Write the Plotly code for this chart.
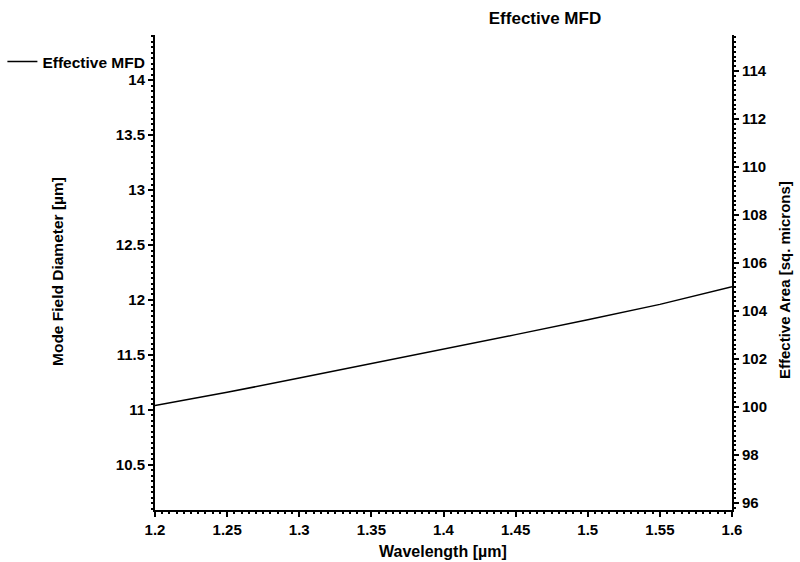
import plotly.graph_objects as go

wavelength = [1.20, 1.25, 1.30, 1.35, 1.40, 1.45, 1.50, 1.55, 1.60]
mfd = [11.04, 11.16, 11.29, 11.42, 11.55, 11.685, 11.82, 11.96, 12.12]

x_ticks = [1.2, 1.25, 1.3, 1.35, 1.4, 1.45, 1.5, 1.55, 1.6]
x_ticklabels = ["1.2", "1.25", "1.3", "1.35", "1.4", "1.45", "1.5", "1.55", "1.6"]
left_ticks = [10.5, 11, 11.5, 12, 12.5, 13, 13.5, 14]
right_ticks = [96, 98, 100, 102, 104, 106, 108, 110, 112, 114]

FONT = "Liberation Sans, Arial, sans-serif"

# plot area in pixels
L, R, T, B = 155, 732, 35, 510
W, H = R - L, B - T


def px(x):
    return (x - L) / W


def py(y):
    return (B - y) / H


fig = go.Figure()
fig.add_trace(go.Scatter(x=wavelength, y=mfd, mode="lines", name="<b>Effective MFD</b>",
                         line=dict(color="black", width=1.5)))
# empty trace so that the right-hand axis is drawn
fig.add_trace(go.Scatter(x=[wavelength[0]], y=[None], yaxis="y2", mode="lines",
                         showlegend=False, hoverinfo="skip"))

axis_common = dict(showline=True, linecolor="black", linewidth=2, ticks="outside",
                   ticklen=5, tickwidth=1.5, tickcolor="black", showgrid=False, zeroline=False,
                   tickfont=dict(family=FONT, size=15, color="black"),
                   mirror=False, automargin=False)

title_font = dict(family=FONT, color="black")

fig.update_layout(
    width=800, height=562,
    margin=dict(l=L, r=800 - R, t=T, b=562 - B),
    paper_bgcolor="white", plot_bgcolor="white",
    font=dict(family=FONT, color="black"),
    title=dict(text="<b>Effective MFD</b>", x=545 / 800, xanchor="center",
               y=1 - 18 / 562, yanchor="middle", font=dict(size=17, family=FONT, color="black")),
    showlegend=True,
    legend=dict(xref="container", yref="container", x=0.003, y=1 - 62 / 562,
                xanchor="left", yanchor="middle", bgcolor="rgba(0,0,0,0)",
                font=dict(size=15.5, family=FONT, color="black")),
    xaxis=dict(range=[1.2, 1.6], tickvals=x_ticks, ticktext=["<b>%s</b>" % t for t in x_ticklabels],
               minor=dict(dtick=0.005, ticklen=2, tickcolor="black", ticks="outside"),
               **axis_common),
    yaxis=dict(range=[10.09, 14.41], tickvals=left_ticks,
               ticktext=["<b>%g</b>" % t for t in left_ticks],
               minor=dict(dtick=0.05, ticklen=2, tickcolor="black", ticks="outside"),
               **axis_common),
    yaxis2=dict(range=[95.71, 115.5], overlaying="y", side="right", anchor="x",
                tickvals=right_ticks, ticktext=["<b>%g</b>" % t for t in right_ticks],
                minor=dict(dtick=0.2, ticklen=2, tickcolor="black", ticks="outside"),
                **axis_common),
    annotations=[
        dict(text="<b>Wavelength [µm]</b>", xref="paper", yref="paper", x=px(443), y=py(551),
             xanchor="center", yanchor="middle", showarrow=False, font=dict(size=16, **title_font)),
        dict(text="<b>Mode Field Diameter [µm]</b>", xref="paper", yref="paper", x=px(57), y=py(272),
             xanchor="center", yanchor="middle", textangle=-90, showarrow=False,
             font=dict(size=15.5, **title_font)),
        dict(text="<b>Effective Area [sq. microns]</b>", xref="paper", yref="paper", x=px(784), y=py(280),
             xanchor="center", yanchor="middle", textangle=-90, showarrow=False,
             font=dict(size=15, **title_font)),
    ],
)

fig.write_html("out.html")
